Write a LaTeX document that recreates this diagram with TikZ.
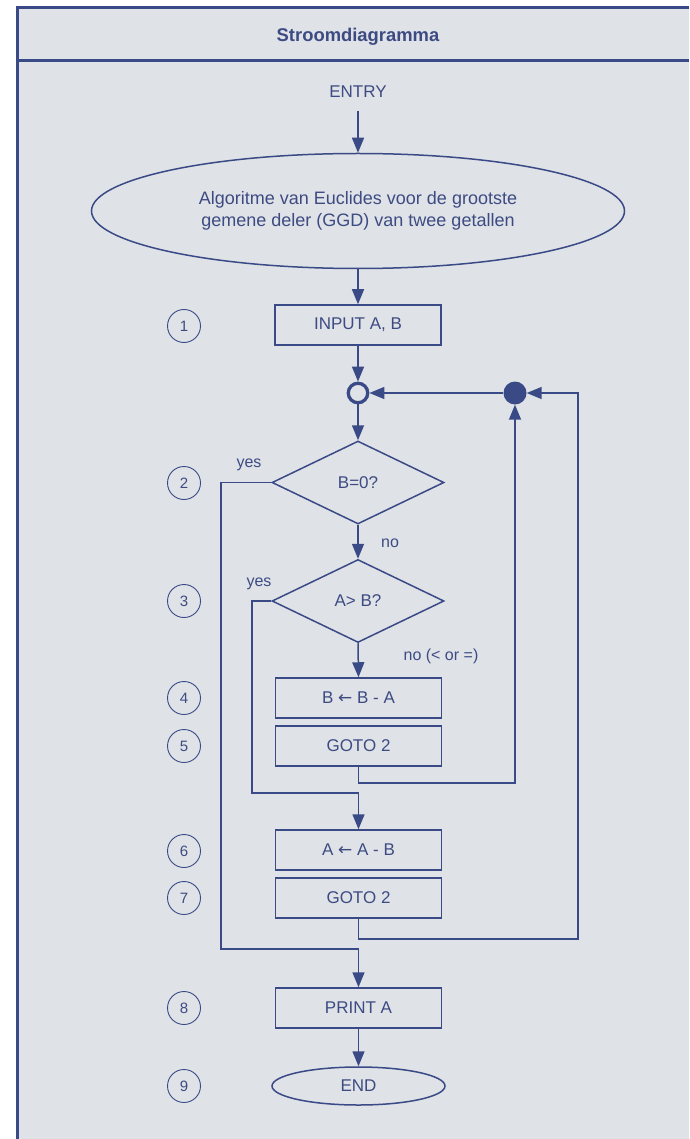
\documentclass[tikz,border=0pt]{standalone}
\usepackage{fontspec}
\setmainfont{Liberation Sans}
\newfontfamily\symfont{DejaVu Sans}
\usetikzlibrary{shapes.geometric,arrows.meta,calc}
\definecolor{navy}{HTML}{3A4A86}
\definecolor{bg}{HTML}{DFE2E7}
\definecolor{txt}{HTML}{3D4B82}
\begin{document}
\begin{tikzpicture}[x=1pt,y=-1pt,
  arr/.style={draw=navy,line width=1.5pt,-{Triangle[length=15pt,width=12pt]}},
  stepbox/.style={draw=navy,line width=1.5pt,minimum width=166pt,minimum height=40pt,inner sep=0pt,text=txt,font=\fontsize{17}{20}\selectfont},
  decide/.style={diamond,draw=navy,line width=1.5pt,minimum width=172pt,minimum height=83pt,inner sep=0pt,text=txt,font=\fontsize{17}{20}\selectfont},
  term/.style={ellipse,draw=navy,line width=1.5pt,inner sep=0pt,text=txt,font=\fontsize{17}{20}\selectfont},
  num/.style={circle,draw=navy,line width=0.9pt,minimum size=33pt,inner sep=0pt,text=txt,font=\fontsize{15}{18}\selectfont},
  lbl/.style={text=txt,inner sep=0pt,font=\fontsize{16}{19}\selectfont},
]
\useasboundingbox (0,0) rectangle (689,1139);
\fill[white] (0,0) rectangle (689,1139);
\fill[bg] (16,6) rectangle (689,1139);
\draw[navy,line width=3pt] (17.5,1139) -- (17.5,7.5) -- (689,7.5);
\draw[navy,line width=3pt] (16,61) -- (689,61);
\node[text=txt,font=\bfseries\fontsize{18.4}{21}\selectfont] (title) at (358,37) {Stroomdiagramma};

\node[lbl,font=\fontsize{17}{20}\selectfont] (entry) at (358,92) {ENTRY};
\node[term,minimum width=533pt,minimum height=115pt,align=center,font=\fontsize{18}{21}\selectfont] (algo) at (358,211)
  {Algoritme van Euclides voor de grootste\\[1pt]gemene deler (GGD) van twee getallen};
\node[stepbox] (in1) at (358,325) {INPUT A, B};
\node[circle,draw=navy,line width=3.3pt,minimum size=19.5pt,inner sep=0pt] (jo) at (358,393) {};
\node[circle,fill=navy,minimum size=23pt,inner sep=0pt] (jf) at (515,393) {};
\node[decide] (d1) at (358,482.5) {B=0?};
\node[decide] (d2) at (358,601) {A> B?};
\node[stepbox] (b4) at (358.5,698) {B {\symfont\char"2190} B - A};
\node[stepbox] (b5) at (358.5,746) {GOTO 2};
\node[stepbox] (b6) at (358.5,850) {A {\symfont\char"2190} A - B};
\node[stepbox] (b7) at (358.5,898) {GOTO 2};
\node[stepbox] (pr) at (358.5,1008) {PRINT A};
\node[term,minimum width=173pt,minimum height=38pt] (fin) at (358.5,1086) {END};

\foreach \n/\y in {1/326,2/483,3/601,4/698,5/746,6/851,7/898,8/1008,9/1086}
  \node[num] (n\n) at (184,\y) {\n};

\node[lbl] (yes1) at (249,465) {yes};
\node[lbl] (yes2) at (259,584) {yes};
\node[lbl] (no1) at (390,543) {no};
\node[lbl] (no2) at (441,656) {no (< or =)};

\coordinate (c1) at (221,949);
\coordinate (c2) at (252,793);
\coordinate (c3) at (515,783);
\coordinate (c4) at (578,939);

\draw[arr] ([yshift=-13pt]entry.south) -- (algo.north);
\draw[arr] (algo) -- (in1);
\draw[arr] (in1) -- (jo);
\draw[arr] (jf) -- (jo);
\draw[arr] (jo) -- (d1);
\draw[arr] (d1.west) -| (c1) -| (pr.north);
\draw[arr] (d1.south) -- (d2.north);
\draw[arr] (d2.west) -| (c2) -| (b6.north);
\draw[arr] (d2.south) -- (b4.north);
\draw[arr] (b5.south) |- (c3) -- (jf);
\draw[arr] (b7.south) |- (c4) |- (jf);
\draw[arr] (pr) -- (fin);
\end{tikzpicture}
\end{document}
